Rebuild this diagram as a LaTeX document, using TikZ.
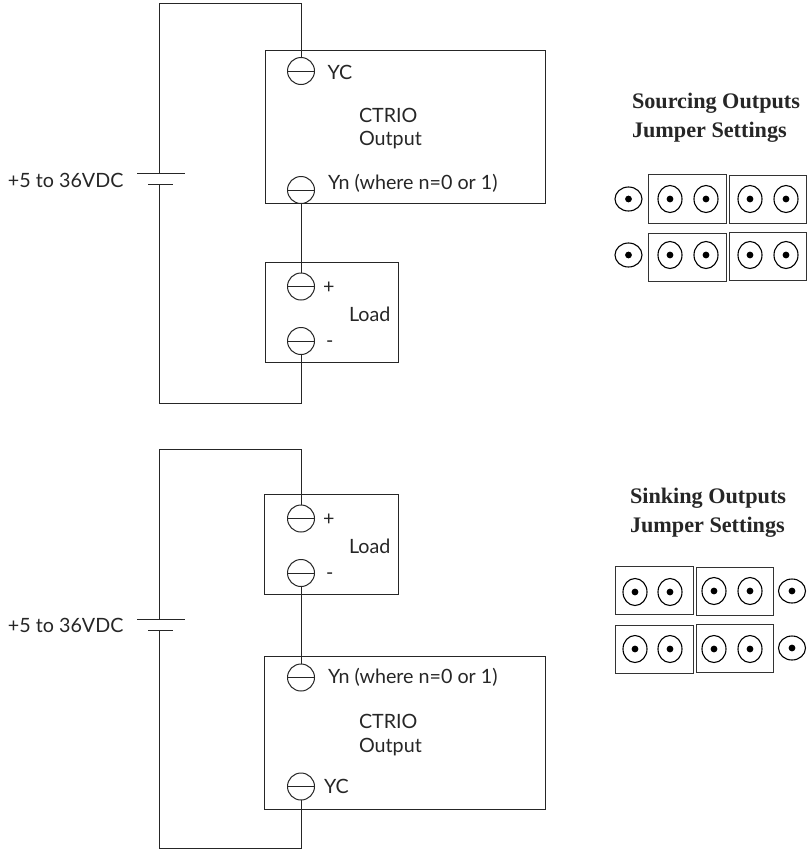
\documentclass[tikz,border=0pt]{standalone}
\usepackage{fontspec}
\usetikzlibrary{shapes.geometric}
\setmainfont{Lato}
\newfontfamily\headfont{Liberation Serif}
\tikzset{
 x=1pt,y=-1pt,
 wire/.style={draw=black!85,line width=1pt},
 box/.style={draw=black!85,line width=1pt,fill=none},
 lbl/.style={anchor=base west,inner sep=0pt,outer sep=0pt,font=\fontsize{19.7}{22}\selectfont,text=black!85},
 head/.style={anchor=base west,inner sep=0pt,outer sep=0pt,font=\headfont\bfseries\fontsize{22.2}{24}\selectfont,text=black!85},
 term/.style={draw=black!85,line width=1pt,circle,minimum size=27pt,inner sep=0pt,outer sep=0pt,path picture={\draw[black!85,line width=1pt] (path picture bounding box.west) -- (path picture bounding box.east);}},
 pin/.style={draw=black,line width=1.1pt,ellipse,minimum width=24pt,minimum height=27pt,inner sep=0pt,outer sep=0pt,path picture={\fill[black] (path picture bounding box.center) circle (3.4pt);}},
 pinw/.style={pin,minimum width=27pt,minimum height=24pt},
 jbox/.style={draw=black!80,line width=1pt,rectangle,inner sep=0pt,outer sep=0pt},
}
\begin{document}
\begin{tikzpicture}
\useasboundingbox (0,0) rectangle (808,852);
% ---- top circuit
\draw[box] (265,50) rectangle (545,203);
\draw[box] (265,262) rectangle (398,362);
\node[term] (yc1) at (301,71) {};
\node[term] (yn1) at (301,190) {};
\node[term] (lp1) at (301,286.5) {};
\node[term] (lm1) at (301,341) {};
\coordinate (tl1) at (159.5,3.5);
\coordinate (tr1) at (301,3.5);
\coordinate (bl1) at (159.5,403);
\coordinate (br1) at (301,403);
\coordinate (bp1) at (159.5,173.5);
\coordinate (bn1) at (159.5,184.5);
\draw[wire] (bp1) -- (tl1) -- (tr1) -- (yc1.north);
\draw[wire] (bn1) -- (bl1) -- (br1) -- (lm1.south);
\draw[wire] (yn1.south) -- (lp1.north);
\draw[wire] (137,173.5) -- (185,173.5);
\draw[wire] (148,184.5) -- (173,184.5);
\node[lbl] (v1) at (8,187) {+5 to 36VDC};
\node[lbl] (tyc1) at (327.5,79) {YC};
\node[lbl] (ct1) at (359,122) {CTRIO};
\node[lbl] (ou1) at (359,145) {Output};
\node[lbl] (tyn1) at (328,189) {Yn (where n=0 or 1)};
\node[lbl] (tp1) at (323,293) {+};
\node[lbl] (tl) at (349,321) {Load};
\node[lbl] (tm1) at (326,347) {-};
% ---- bottom circuit
\draw[box] (264.5,494) rectangle (398,594);
\draw[box] (264.5,656) rectangle (545,809);
\node[term] (lp2) at (301,518.5) {};
\node[term] (lm2) at (301,573) {};
\node[term] (yn2) at (301,677.5) {};
\node[term] (yc2) at (301,786.5) {};
\coordinate (tl2) at (159.5,449.5);
\coordinate (tr2) at (301,449.5);
\coordinate (bl2) at (159.5,848);
\coordinate (br2) at (301,848);
\coordinate (bp2) at (159.5,619.5);
\coordinate (bn2) at (159.5,630.5);
\draw[wire] (bp2) -- (tl2) -- (tr2) -- (lp2.north);
\draw[wire] (bn2) -- (bl2) -- (br2) -- (yc2.south);
\draw[wire] (lm2.south) -- (yn2.north);
\draw[wire] (137,619.5) -- (185,619.5);
\draw[wire] (148,630.5) -- (173,630.5);
\node[lbl] (v2) at (8,632) {+5 to 36VDC};
\node[lbl] (tp2) at (323,525) {+};
\node[lbl] (tl2t) at (349,553) {Load};
\node[lbl] (tm2) at (326,579) {-};
\node[lbl] (tyn2) at (328,683) {Yn (where n=0 or 1)};
\node[lbl] (ct2) at (359,728) {CTRIO};
\node[lbl] (ou2) at (359,752) {Output};
\node[lbl] (tyc2) at (324,793) {YC};
% ---- sourcing jumpers
\node[head] (h1) at (632,108) {Sourcing Outputs};
\node[head] (h2) at (632,137) {Jumper Settings};
\draw[jbox] (648,174) rectangle (726,223);
\draw[jbox] (729,175) rectangle (806,223);
\draw[jbox] (648,233) rectangle (726,281);
\draw[jbox] (729,232) rectangle (806,280);
\foreach \n/\px/\py in {a/670/199,b/706/199,c/750/199,d/786/199,e/670/255,f/706/255,g/750/255,h/786/255}
  \node[pin] (p\n) at (\px,\py) {};
\node[pinw] (pi) at (628.5,199) {};
\node[pinw] (pj) at (628.5,255) {};
% ---- sinking jumpers
\node[head] (h3) at (630,503) {Sinking Outputs};
\node[head] (h4) at (630,532) {Jumper Settings};
\draw[jbox] (615,566.5) rectangle (693,614.5);
\draw[jbox] (696,567) rectangle (773,615);
\draw[jbox] (615,625) rectangle (693,673);
\draw[jbox] (696,624) rectangle (773,672);
\foreach \n/\px/\py in {a/635/592,b/670/592,c/714/591,d/750/591,e/635/649,f/670/649,g/714/649,h/750/649}
  \node[pin] (q\n) at (\px,\py) {};
\node[pinw] (qi) at (792,591) {};
\node[pinw] (qj) at (792,648) {};
\end{tikzpicture}
\end{document}
